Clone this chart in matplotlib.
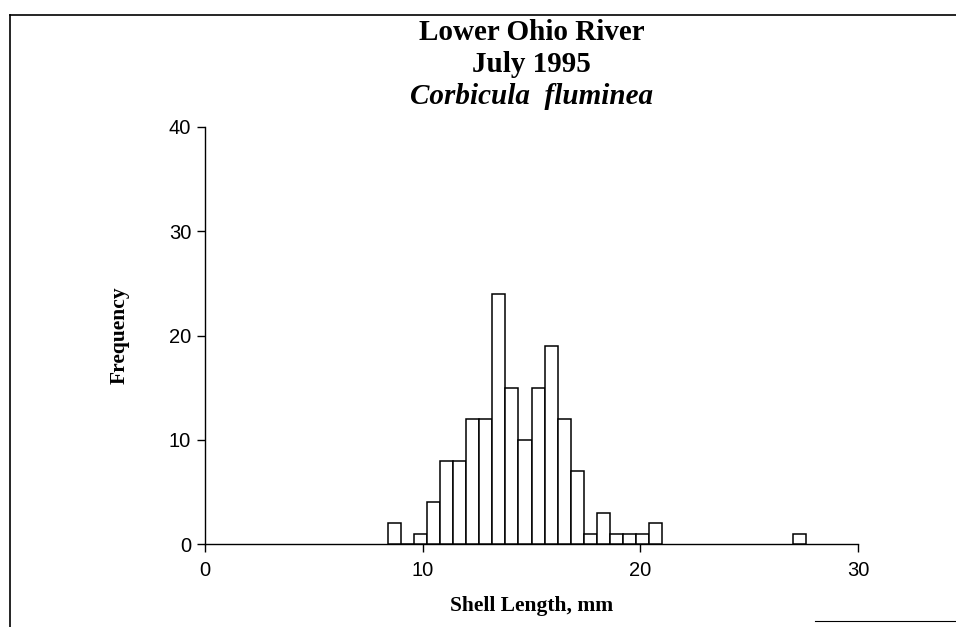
import matplotlib
matplotlib.use("Agg")
import matplotlib.pyplot as plt
from matplotlib.lines import Line2D

# Data: histogram of shell length (bins 0.6 mm wide)
bin_width = 0.6
bin_starts = [8.4, 9.0, 9.6, 10.2, 10.8, 11.4, 12.0, 12.6, 13.2, 13.8, 14.4,
              15.0, 15.6, 16.2, 16.8, 17.4, 18.0, 18.6, 19.2, 19.8, 20.4, 27.0]
counts = [2, 0, 1, 4, 8, 8, 12, 12, 24, 15, 10,
          15, 19, 12, 7, 1, 3, 1, 1, 1, 2, 1]
x_ticks = [0, 10, 20, 30]
y_ticks = [0, 10, 20, 30, 40]
title_lines = ["Lower Ohio River", "July 1995", "Corbicula  fluminea"]

fig = plt.figure(figsize=(9.56, 6.27), dpi=100)
ax = fig.add_axes([205/956, 1-544/627, (858-205)/956, (544-127)/627])

ax.bar(bin_starts, counts, width=bin_width, align='edge',
       facecolor='white', edgecolor='black', linewidth=1.1, zorder=3)

ax.set_xlim(0, 30)
ax.set_ylim(0, 40)
for s in ['top', 'right']:
    ax.spines[s].set_visible(False)
ax.spines['left'].set_linewidth(1.0)
ax.spines['bottom'].set_linewidth(1.0)
ax.set_xticks(x_ticks)
ax.set_yticks(y_ticks)
ax.tick_params(direction='out', length=6, width=1.0, colors='black',
               labelsize=14.5)
ax.tick_params(axis='x', pad=6)
ax.tick_params(axis='y', pad=4)
for lab in ax.get_xticklabels() + ax.get_yticklabels():
    lab.set_fontfamily('Liberation Sans')

ax.set_ylabel('Frequency', fontfamily='Liberation Serif', fontweight='bold',
              fontsize=15.5, labelpad=28)
ax.set_xlabel('Shell Length, mm', fontfamily='Liberation Serif',
              fontweight='bold', fontsize=15.5, labelpad=12)

cx = (205 + 858) / 2 / 956
fig.text(cx, 1-33/627, title_lines[0], ha='center', va='center',
         fontfamily='Liberation Serif', fontweight='bold', fontsize=21)
fig.text(cx, 1-64/627, title_lines[1], ha='center', va='center',
         fontfamily='Liberation Serif', fontweight='bold', fontsize=21)
fig.text(cx, 1-96/627, title_lines[2], ha='center', va='center',
         fontfamily='Liberation Serif', fontweight='bold', style='italic',
         fontsize=21)

# page frame lines
fig.add_artist(Line2D([10/956, 10/956], [1-15/627, 0], transform=fig.transFigure,
                      color='black', linewidth=1.2))
fig.add_artist(Line2D([10/956, 1], [1-15/627, 1-15/627], transform=fig.transFigure,
                      color='black', linewidth=1.2))
fig.add_artist(Line2D([815/956, 1], [1-621/627, 1-621/627], transform=fig.transFigure,
                      color='black', linewidth=0.8))

fig.savefig('out.png', dpi=100)
